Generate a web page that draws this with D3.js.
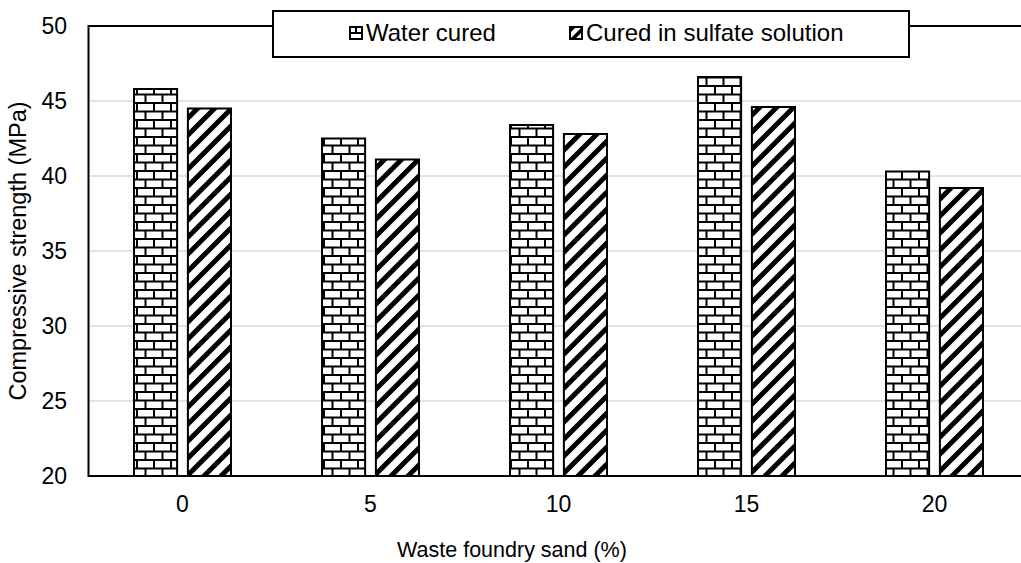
<!DOCTYPE html>
<html>
<head>
<meta charset="utf-8">
<script src="https://cdn.jsdelivr.net/npm/d3@7"></script>
<style>
  body { margin: 0; background: #fff; }
  text { font-family: "Liberation Sans", Arial, sans-serif; fill: #000; }
</style>
</head>
<body>
<div id="chart"></div>
<script>
// data
var categories = ["0", "5", "10", "15", "20"];
var seriesNames = ["Water cured", "Cured in sulfate solution"];
var waterCured = [45.8, 42.5, 43.4, 46.6, 40.3];
var sulfateCured = [44.5, 41.1, 42.8, 44.6, 39.2];
var yTicks = [20, 25, 30, 35, 40, 45, 50];

var width = 1021, height = 563;
var svg = d3.select("#chart").append("svg").attr("width", width).attr("height", height)

// plot area (right edge runs past the picture, like the original)
var plotL = 88.5, plotR = 1028.5, plotT = 26, plotB = 476;

var x = d3.scaleBand().domain(categories).range([plotL, plotR]).padding(0)
var x1 = d3.scaleBand().domain(seriesNames).range([-48.5, 48.5]).paddingInner(0.2)
var y = d3.scaleLinear().domain([20, 50]).range([plotB, plotT])

// fill patterns
var defs = svg.append("defs")
var brick = defs.append("pattern").attr("id", "brick").attr("patternUnits", "userSpaceOnUse")
    .attr("width", 17).attr("height", 17)
brick.append("rect").attr("width", 17).attr("height", 17).attr("fill", "#fff")
brick.append("path")
    .attr("d", "M0,1 H17 M0,9.5 H17 M1,0 V9.5 M9.5,9.5 V17")
    .attr("stroke", "#000").attr("stroke-width", 2).attr("fill", "none")

var diag = defs.append("pattern").attr("id", "diag").attr("patternUnits", "userSpaceOnUse")
    .attr("width", 17).attr("height", 17)
diag.append("rect").attr("width", 17).attr("height", 17).attr("fill", "#fff")
diag.append("path")
    .attr("d", "M-4,4 L4,-4 M0,17 L17,0 M13,21 L21,13")
    .attr("stroke", "#000").attr("stroke-width", 5).attr("fill", "none")

var fills = ["url(#brick)", "url(#diag)"];

// gridlines
svg.append("g").selectAll("line")
    .data(yTicks.filter(function(d) { return d > 20 && d < 50; }))
    .enter().append("line")
    .attr("x1", plotL).attr("x2", plotR)
    .attr("y1", function(d) { return y(d); }).attr("y2", function(d) { return y(d); })
    .attr("stroke", "#d9d9d9").attr("stroke-width", 1.5)

// bars
var seriesData = [waterCured, sulfateCured];
seriesData.forEach(function(vals, si) {
  svg.append("g").selectAll("rect")
      .data(vals)
      .enter().append("rect")
      .attr("x", function(d, i) { return x(categories[i]) + x.bandwidth() / 2 + x1(seriesNames[si]); })
      .attr("y", function(d) { return y(d); })
      .attr("width", x1.bandwidth())
      .attr("height", function(d) { return y(20) - y(d); })
      .attr("fill", fills[si])
      .attr("stroke", "#000").attr("stroke-width", 2)
})

// plot border
svg.append("rect").attr("x", plotL).attr("y", plotT)
    .attr("width", plotR - plotL).attr("height", plotB - plotT)
    .attr("fill", "none").attr("stroke", "#000").attr("stroke-width", 2)

// y tick labels
svg.append("g").selectAll("text")
    .data(yTicks).enter().append("text")
    .attr("x", 67).attr("y", function(d) { return y(d); })
    .attr("dy", "0.35em").attr("text-anchor", "end")
    .style("font-size", "23px")
    .text(function(d) { return d; })

// x tick labels
svg.append("g").selectAll("text")
    .data(categories).enter().append("text")
    .attr("x", function(d) { return x(d) + x.bandwidth() / 2; })
    .attr("y", 512).attr("text-anchor", "middle")
    .style("font-size", "23px")
    .text(function(d) { return d; })

// axis titles
svg.append("text").attr("x", 512).attr("y", 557).attr("text-anchor", "middle")
    .style("font-size", "21.5px").text("Waste foundry sand (%)")
svg.append("text").attr("transform", "translate(26,251) rotate(-90)").attr("text-anchor", "middle")
    .style("font-size", "23.5px").text("Compressive strength (MPa)")

// legend
var lg = svg.append("g")
lg.append("rect").attr("x", 273).attr("y", 11).attr("width", 636).attr("height", 46)
    .attr("fill", "#fff").attr("stroke", "#000").attr("stroke-width", 2)

var legendX = [350, 570];
var lItems = lg.selectAll("g.item").data(seriesNames).enter().append("g")
    .attr("transform", function(d, i) { return "translate(" + legendX[i] + ",27)"; })
lItems.append("rect").attr("width", 12).attr("height", 12)
    .attr("fill", "#fff").attr("stroke", "#000").attr("stroke-width", 2)
lItems.filter(function(d, i) { return i === 0; }).append("path")
    .attr("d", "M0,6 H12 M6,0 V6").attr("stroke", "#000").attr("stroke-width", 2)
lItems.filter(function(d, i) { return i === 1; }).append("path")
    .attr("d", "M0,12 L12,0 L12,5 L5,12 Z M0,6 L6,0 L0,0 Z").attr("fill", "#000")
lItems.append("text").attr("x", 16).attr("y", 14)
    .style("font-size", "24px")
    .text(function(d) { return d; })
</script>
</body>
</html>
